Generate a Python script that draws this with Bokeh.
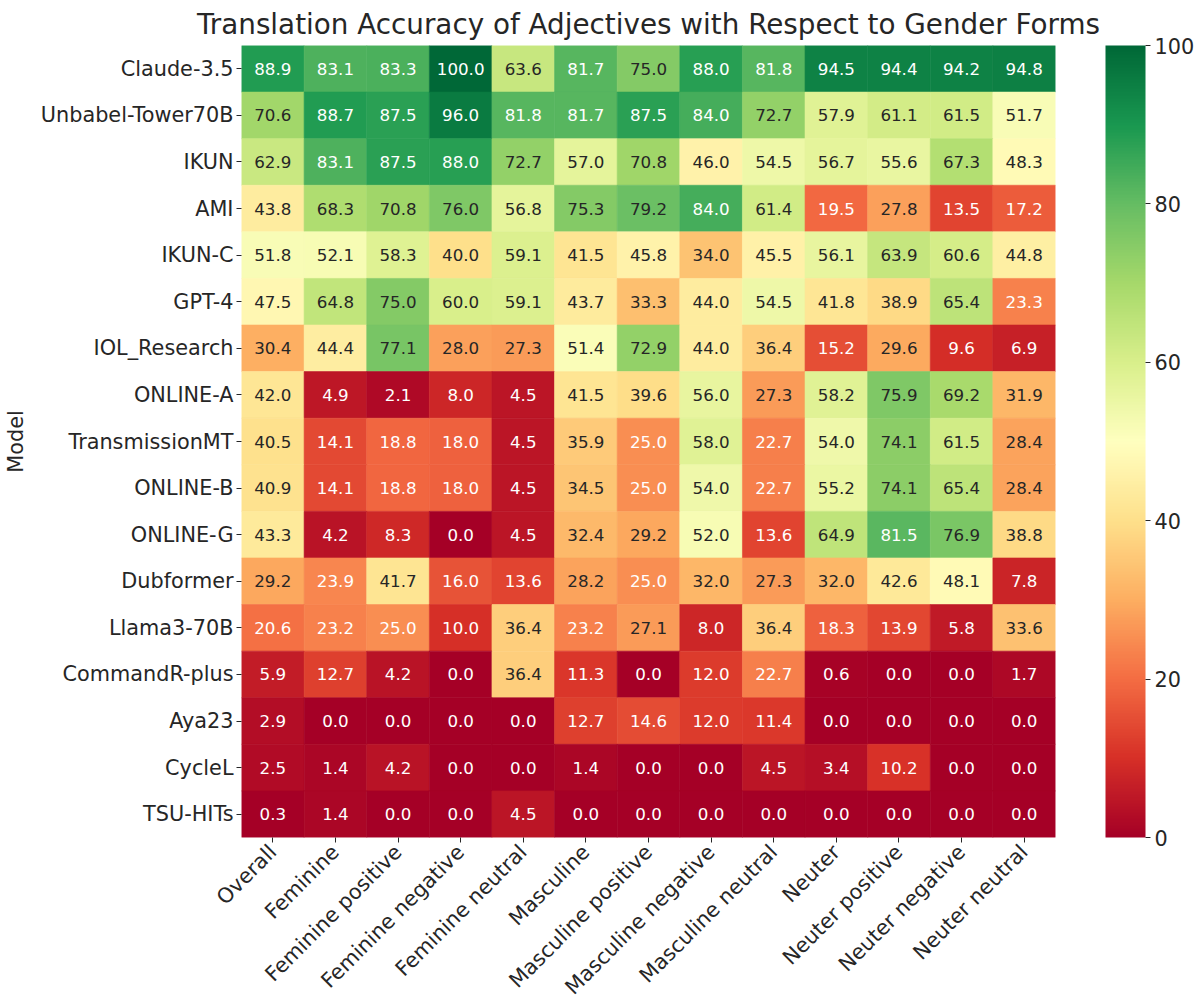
import math
from bokeh.plotting import figure
from bokeh.models import ColumnDataSource, LinearColorMapper, ColorBar, FixedTicker, FactorRange
from bokeh.core.properties import value
from bokeh.embed import file_html
from bokeh.resources import INLINE

# ---------------- data ----------------
categories = ["Overall", "Feminine", "Feminine positive", "Feminine negative", "Feminine neutral",
              "Masculine", "Masculine positive", "Masculine negative", "Masculine neutral",
              "Neuter", "Neuter positive", "Neuter negative", "Neuter neutral"]

models = ["Claude-3.5", "Unbabel-Tower70B", "IKUN", "AMI", "IKUN-C", "GPT-4", "IOL_Research",
          "ONLINE-A", "TransmissionMT", "ONLINE-B", "ONLINE-G", "Dubformer", "Llama3-70B",
          "CommandR-plus", "Aya23", "CycleL", "TSU-HITs"]

claude_35 = [88.9, 83.1, 83.3, 100.0, 63.6, 81.7, 75.0, 88.0, 81.8, 94.5, 94.4, 94.2, 94.8]
unbabel_tower70b = [70.6, 88.7, 87.5, 96.0, 81.8, 81.7, 87.5, 84.0, 72.7, 57.9, 61.1, 61.5, 51.7]
ikun = [62.9, 83.1, 87.5, 88.0, 72.7, 57.0, 70.8, 46.0, 54.5, 56.7, 55.6, 67.3, 48.3]
ami = [43.8, 68.3, 70.8, 76.0, 56.8, 75.3, 79.2, 84.0, 61.4, 19.5, 27.8, 13.5, 17.2]
ikun_c = [51.8, 52.1, 58.3, 40.0, 59.1, 41.5, 45.8, 34.0, 45.5, 56.1, 63.9, 60.6, 44.8]
gpt_4 = [47.5, 64.8, 75.0, 60.0, 59.1, 43.7, 33.3, 44.0, 54.5, 41.8, 38.9, 65.4, 23.3]
iol_research = [30.4, 44.4, 77.1, 28.0, 27.3, 51.4, 72.9, 44.0, 36.4, 15.2, 29.6, 9.6, 6.9]
online_a = [42.0, 4.9, 2.1, 8.0, 4.5, 41.5, 39.6, 56.0, 27.3, 58.2, 75.9, 69.2, 31.9]
transmission_mt = [40.5, 14.1, 18.8, 18.0, 4.5, 35.9, 25.0, 58.0, 22.7, 54.0, 74.1, 61.5, 28.4]
online_b = [40.9, 14.1, 18.8, 18.0, 4.5, 34.5, 25.0, 54.0, 22.7, 55.2, 74.1, 65.4, 28.4]
online_g = [43.3, 4.2, 8.3, 0.0, 4.5, 32.4, 29.2, 52.0, 13.6, 64.9, 81.5, 76.9, 38.8]
dubformer = [29.2, 23.9, 41.7, 16.0, 13.6, 28.2, 25.0, 32.0, 27.3, 32.0, 42.6, 48.1, 7.8]
llama3_70b = [20.6, 23.2, 25.0, 10.0, 36.4, 23.2, 27.1, 8.0, 36.4, 18.3, 13.9, 5.8, 33.6]
commandr_plus = [5.9, 12.7, 4.2, 0.0, 36.4, 11.3, 0.0, 12.0, 22.7, 0.6, 0.0, 0.0, 1.7]
aya23 = [2.9, 0.0, 0.0, 0.0, 0.0, 12.7, 14.6, 12.0, 11.4, 0.0, 0.0, 0.0, 0.0]
cyclel = [2.5, 1.4, 4.2, 0.0, 0.0, 1.4, 0.0, 0.0, 4.5, 3.4, 10.2, 0.0, 0.0]
tsu_hits = [0.3, 1.4, 0.0, 0.0, 4.5, 0.0, 0.0, 0.0, 0.0, 0.0, 0.0, 0.0, 0.0]

rows = [claude_35, unbabel_tower70b, ikun, ami, ikun_c, gpt_4, iol_research, online_a,
        transmission_mt, online_b, online_g, dubformer, llama3_70b, commandr_plus, aya23,
        cyclel, tsu_hits]

colorbar_ticks = [0, 20, 40, 60, 80, 100]

# ---------------- colormap (RdYlGn, 256 steps) ----------------
anchors = ["#a50026", "#d73027", "#f46d43", "#fdae61", "#fee08b", "#ffffbf",
           "#d9ef8b", "#a6d96a", "#66bd63", "#1a9850", "#006837"]

def hex2rgb(h):
    return tuple(int(h[i:i + 2], 16) for i in (1, 3, 5))

anc = [hex2rgb(h) for h in anchors]
palette = []
for i in range(256):
    t = i / 255 * (len(anc) - 1)
    k = min(int(t), len(anc) - 2)
    f = t - k
    c = tuple(round(anc[k][j] + (anc[k + 1][j] - anc[k][j]) * f) for j in range(3))
    palette.append("#%02x%02x%02x" % c)

def color_for(v):
    idx = min(int(v / 100 * 256), 255)
    return palette[idx]

def lum(hexc):
    out = []
    for c in hex2rgb(hexc):
        c = c / 255
        out.append(c / 12.92 if c <= 0.03928 else ((c + 0.055) / 1.055) ** 2.4)
    return 0.2126 * out[0] + 0.7152 * out[1] + 0.0722 * out[2]

xs, ys, vals, labels, tcolors = [], [], [], [], []
for m, row in zip(models, rows):
    for c, v in zip(categories, row):
        xs.append(c)
        ys.append(m)
        vals.append(v)
        labels.append(f"{v:.1f}")
        tcolors.append("#262626" if lum(color_for(v)) > 0.408 else "#ffffff")

src = ColumnDataSource(dict(x=xs, y=ys, v=vals, label=labels, tc=tcolors))
mapper = LinearColorMapper(palette=palette, low=0, high=100)

FONT = "DejaVu Sans"
DARK = "#262626"

p = figure(x_range=FactorRange(*categories), y_range=FactorRange(*reversed(models)),
           frame_width=814, frame_height=792, output_backend="svg", toolbar_location=None,
           min_border_left=235, min_border_top=30, min_border_right=0, min_border_bottom=10,
           title="Translation Accuracy of Adjectives with Respect to Gender Forms")

p.rect(x="x", y="y", width=1, height=1, source=src,
       fill_color={"field": "v", "transform": mapper},
       line_color={"field": "v", "transform": mapper}, line_width=0.6)
p.text(x="x", y="y", text="label", source=src, text_color="tc",
       text_align="center", text_baseline="middle",
       text_font=value(FONT), text_font_size=value("16.7px"))

p.title.text_font = FONT
p.title.text_font_size = "27.8px"
p.title.text_font_style = "normal"
p.title.text_color = DARK
p.title.align = "center"

for ax in (p.xaxis[0], p.yaxis[0]):
    ax.axis_line_color = None
    ax.major_tick_line_color = DARK
    ax.major_tick_out = 5
    ax.major_tick_in = 0
    ax.major_label_text_font = FONT
    ax.major_label_text_font_size = "20.8px"
    ax.major_label_text_color = DARK
    ax.major_label_standoff = 3

p.xaxis.major_label_orientation = math.pi / 4
p.xaxis.major_label_standoff = 6
p.yaxis.axis_label = "Model"
p.yaxis.axis_label_text_font = FONT
p.yaxis.axis_label_text_font_size = "20.8px"
p.yaxis.axis_label_text_font_style = "normal"
p.yaxis.axis_label_text_color = DARK
p.yaxis.axis_label_standoff = 10

p.xgrid.grid_line_color = None
p.ygrid.grid_line_color = None
p.outline_line_color = None

cb = ColorBar(color_mapper=mapper, ticker=FixedTicker(ticks=colorbar_ticks),
              width=40, height=792, padding=0, location=(50, 0),
              bar_line_color=None, border_line_color=None, background_fill_alpha=0,
              major_tick_line_color=DARK, major_tick_in=0, major_tick_out=5,
              minor_tick_line_color=None,
              major_label_text_font=FONT, major_label_text_font_size="20.8px",
              major_label_text_color=DARK, label_standoff=4)
p.add_layout(cb, "right")

open("out.html", "w").write(file_html(p, INLINE))
